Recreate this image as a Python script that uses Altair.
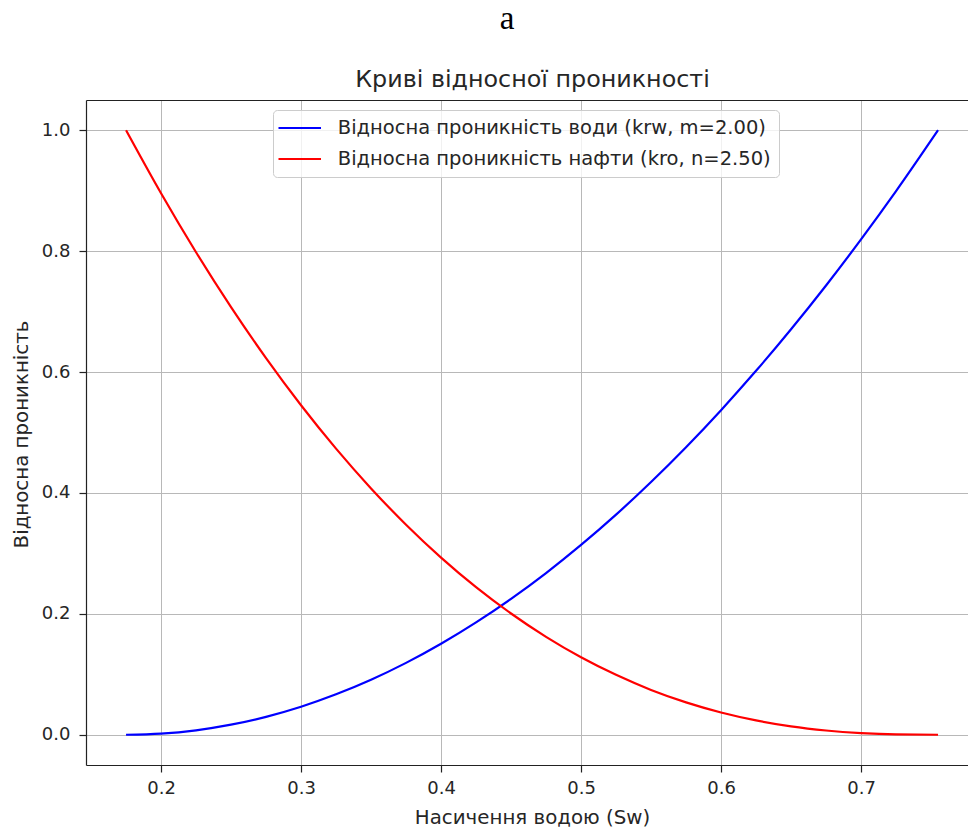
import altair as alt
import pandas as pd

# Water saturation points and the two relative permeability curves
sw = [0.175, 0.200, 0.225, 0.250, 0.275, 0.300, 0.325, 0.350, 0.375, 0.400,
      0.425, 0.450, 0.475, 0.500, 0.525, 0.550, 0.575, 0.600, 0.625, 0.650,
      0.675, 0.700, 0.725, 0.755]
krw = [0.0, 0.0019, 0.0074, 0.0167, 0.0297, 0.0464, 0.0669, 0.0910, 0.1189, 0.1505,
       0.1858, 0.2248, 0.2675, 0.3140, 0.3641, 0.4181, 0.4757, 0.5370, 0.6020, 0.6708,
       0.7432, 0.8194, 0.8992, 1.0]
kro = [1.0, 0.8957, 0.7982, 0.7074, 0.6231, 0.5451, 0.4733, 0.4075, 0.3475, 0.2931,
       0.2442, 0.2006, 0.1620, 0.1282, 0.0991, 0.0742, 0.0536, 0.0369, 0.0238, 0.0139,
       0.0071, 0.0028, 0.0006, 0.0]

WATER = "Відносна проникність води (krw, m=2.00)"
OIL = "Відносна проникність нафти (kro, n=2.50)"
TITLE = "Криві відносної проникності"
X_TITLE = "Насичення водою (Sw)"
Y_TITLE = "Відносна проникність"
CAPTION = ["a"]

x_ticks = [0.2, 0.3, 0.4, 0.5, 0.6, 0.7]
y_ticks = [0.0, 0.2, 0.4, 0.6, 0.8, 1.0]

rows = [{"Sw": s, "k": v, "curve": WATER} for s, v in zip(sw, krw)]
rows += [{"Sw": s, "k": v, "curve": OIL} for s, v in zip(sw, kro)]
df = pd.DataFrame(rows)

FONT = "DejaVu Sans"
INK = "#262626"
W, H = 882, 665

x_scale = alt.Scale(domain=[0.1464, 0.7764], nice=False, zero=False)
y_scale = alt.Scale(domain=[-0.05, 1.05], nice=False, zero=False)

curves = alt.Chart(df).mark_line(strokeWidth=2.2, interpolate="monotone", clip=True).encode(
    x=alt.X("Sw:Q", scale=x_scale,
            axis=alt.Axis(orient="bottom", values=x_ticks, format=".1f",
                          title=X_TITLE, titleX=446, titleY=58,
                          titleAlign="center", titleBaseline="alphabetic",
                          labelPadding=7, tickSize=7)),
    y=alt.Y("k:Q", scale=y_scale,
            axis=alt.Axis(orient="left", values=y_ticks, format=".1f",
                          title=Y_TITLE, titleX=-59, titleY=334, titleAngle=270,
                          titleAlign="center", titleBaseline="alphabetic",
                          labelPadding=9, tickSize=7)),
    color=alt.Color("curve:N",
                    scale=alt.Scale(domain=[WATER, OIL], range=["#0000ff", "#ff0000"]),
                    legend=alt.Legend(orient="none", legendX=187, legendY=10, title=None,
                                      symbolType="M-2.5,0H2.5", symbolSize=289,
                                      symbolStrokeWidth=2.2, symbolOffset=8.75,
                                      labelOffset=28, labelLimit=0, labelFont=FONT,
                                      labelFontSize=19.5, labelColor=INK,
                                      rowPadding=11, padding=8,
                                      fillColor="rgba(255,255,255,0.8)",
                                      strokeColor="#cccccc", cornerRadius=4)),
)

# Top spine carrying the plot title
top_frame = alt.Chart(df).mark_rule(opacity=0).encode(
    x=alt.X("Sw:Q", scale=x_scale,
            axis=alt.Axis(orient="top", labels=False, ticks=False, grid=False,
                          title=TITLE, titleX=446, titleY=-13.5, titleAlign="center",
                          titleBaseline="alphabetic", titleFontSize=23.8)),
)

caption = alt.Chart(pd.DataFrame({"t": CAPTION})).mark_text(
    font="Liberation Serif", fontSize=33, color="black", align="center",
    baseline="alphabetic").encode(text="t:N", x=alt.value(421), y=alt.value(-71))

chart = alt.layer(curves, top_frame, caption).resolve_axis(x="independent").properties(
    width=W, height=H,
    autosize=alt.AutoSizeParams(type="none"),
    padding={"left": 86, "top": 100, "right": 0, "bottom": 64},
    background="white",
).configure_view(stroke=None).configure_axis(
    labelFont=FONT, labelFontSize=18, labelColor=INK,
    titleFont=FONT, titleFontSize=19.8, titleFontWeight="normal", titleColor=INK,
    domainColor="#222222", domainWidth=1.2, tickColor="#222222", tickWidth=1.2,
    gridColor="#b8b8b8", gridWidth=1,
)

chart.save("out.html", embed_options={"renderer": "svg", "actions": False})
